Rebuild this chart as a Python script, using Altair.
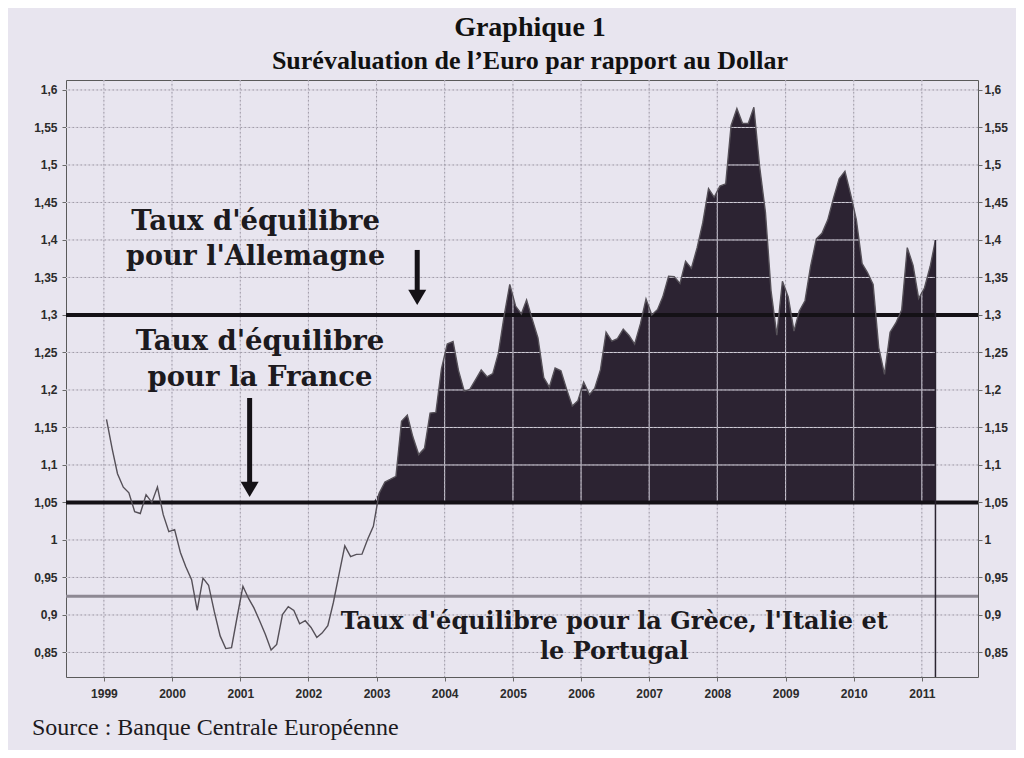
import altair as alt
import pandas as pd

# ---------------- data ----------------
first_year = 1999
# monthly EUR/USD reference rate, Jan 1999 .. Mar 2011
usd_per_eur = [
    1.1608, 1.1208, 1.0883, 1.0704, 1.0628, 1.0378, 1.0353, 1.0604, 1.0501, 1.0706, 1.0338, 1.0110,
    1.0137, 0.9834, 0.9643, 0.9470, 0.9060, 0.9492, 0.9397, 0.9041, 0.8721, 0.8552, 0.8564, 0.8973,
    0.9383, 0.9217, 0.9095, 0.8920, 0.8742, 0.8532, 0.8607, 0.9005, 0.9111, 0.9059, 0.8883, 0.8924,
    0.8833, 0.8700, 0.8758, 0.8858, 0.9170, 0.9554, 0.9922, 0.9778, 0.9808, 0.9811, 1.0014, 1.0183,
    1.0622, 1.0773, 1.0807, 1.0848, 1.1582, 1.1663, 1.1372, 1.1139, 1.1222, 1.1692, 1.1702, 1.2286,
    1.2613, 1.2646, 1.2262, 1.1985, 1.2007, 1.2138, 1.2266, 1.2176, 1.2218, 1.2490, 1.2991, 1.3408,
    1.3119, 1.3014, 1.3201, 1.2938, 1.2694, 1.2165, 1.2037, 1.2292, 1.2256, 1.2015, 1.1786, 1.1856,
    1.2103, 1.1938, 1.2020, 1.2271, 1.2770, 1.2650, 1.2684, 1.2811, 1.2727, 1.2611, 1.2881, 1.3213,
    1.2999, 1.3074, 1.3242, 1.3516, 1.3511, 1.3419, 1.3716, 1.3622, 1.3896, 1.4227, 1.4684, 1.4570,
    1.4718, 1.4748, 1.5527, 1.5751, 1.5557, 1.5553, 1.5770, 1.4975, 1.4370, 1.3322, 1.2732, 1.3449,
    1.3239, 1.2785, 1.3050, 1.3190, 1.3650, 1.4016, 1.4088, 1.4268, 1.4562, 1.4816, 1.4914, 1.4614,
    1.4272, 1.3686, 1.3569, 1.3406, 1.2565, 1.2209, 1.2770, 1.2894, 1.3067, 1.3898, 1.3661, 1.3220,
    1.3360, 1.3649, 1.3999,
]
area_start = "2002-12-15"

equilibrium_levels = [1.30, 1.05]          # Allemagne, France
south_level = [0.925]                       # Grèce, Italie, Portugal

y_ticks = [0.85, 0.90, 0.95, 1.00, 1.05, 1.10, 1.15, 1.20, 1.25, 1.30,
           1.35, 1.40, 1.45, 1.50, 1.55, 1.60]
year_ticks = list(range(1999, 2012))

y_domain = [0.8173, 1.6133]

ann_text = ["Taux d'équilibre", "pour l'Allemagne",
            "Taux d'équilibre", "pour la France",
            "Taux d'équilibre pour la Grèce, l'Italie et", "le Portugal"]
ann_date = ["2001-03-24", "2001-03-24", "2001-04-17", "2001-04-17",
            "2006-06-28", "2006-06-28"]
ann_value = [1.4133, 1.3673, 1.2533, 1.2047, 0.8813, 0.8413]
ann_size = [27.5, 27, 27.5, 27.5, 24, 24]

arrow_date = ["2003-08-07", "2001-02-20"]
arrow_top = [1.3867, 1.1893]
arrow_base = [1.333, 1.0773]
arrow_head = [1.324, 1.068]

title_text = "Graphique 1"
subtitle_text = "Surévaluation de l’Euro par rapport au Dollar"
source_text = "Source : Banque Centrale Européenne"

# ---------------- tables ----------------
dates = [f"{first_year + i // 12}-{i % 12 + 1:02d}-15" for i in range(len(usd_per_eur))]
df = pd.DataFrame({"date": dates, "rate": usd_per_eur})
area_df = df[df["date"] >= area_start]
last_df = df.iloc[[-1]].assign(lo=y_domain[0])
grid_y = pd.DataFrame({"v": y_ticks})
grid_x = pd.DataFrame({"d": [f"{y}-01-01" for y in year_ticks]})
eq_df = pd.DataFrame({"v": equilibrium_levels})
south_df = pd.DataFrame({"v": south_level})
ann_df = pd.DataFrame({"date": ann_date, "v": ann_value, "t": ann_text, "s": ann_size})
arrow_df = pd.DataFrame({"date": arrow_date, "top": arrow_top, "base": arrow_base, "head": arrow_head})
src_df = pd.DataFrame({"t": [source_text]})

# ---------------- scales / axes ----------------
x_domain = [alt.DateTime(year=1998, month=6, date=12, utc=True),
            alt.DateTime(year=2011, month=10, date=29, utc=True)]


def xscale():
    return alt.Scale(type="utc", nice=False, domain=x_domain)


def yscale():
    return alt.Scale(domain=y_domain, nice=False, zero=False)


label_expr = "replace(format(datum.value, '.2~f'), '.', ',')"
axis_common = dict(grid=False, domain=False, tickSize=4, tickColor="#6a6a6a",
                   labelFont="Liberation Sans", labelFontSize=12, labelFontWeight="bold",
                   labelColor="#2b2b2b", title=None)
left_axis = alt.Axis(values=y_ticks, labelExpr=label_expr, labelPadding=5, orient="left", **axis_common)
right_axis = alt.Axis(values=y_ticks, labelExpr=label_expr, labelPadding=2, orient="right", **axis_common)
x_axis = alt.Axis(values=[alt.DateTime(year=y, month=1, date=1, utc=True) for y in year_ticks],
                  format="%Y", labelPadding=7, orient="bottom", **axis_common)


def X(f, **k):
    return alt.X(f, scale=xscale(), **k)


def Y(f, **k):
    return alt.Y(f, scale=yscale(), **k)


area = alt.Chart(area_df).mark_area(color="#2c2332", opacity=1).transform_calculate(
    top="max(datum.rate, 1.05)", bottom="1.05"
).encode(x=X("date:T", axis=None), y=Y("bottom:Q", axis=None), y2="top:Q")

grid_light_h = alt.Chart(grid_y).mark_rule(color="#d6d2de", strokeWidth=1).encode(y=Y("v:Q", axis=None))
grid_light_v = alt.Chart(grid_x).mark_rule(color="#d6d2de", strokeWidth=1).encode(x=X("d:T", axis=None))
grid_dot_h = alt.Chart(grid_y).mark_rule(color="#a09ca8", strokeWidth=1, strokeDash=[1.5, 2.5]).encode(
    y=Y("v:Q", axis=None))
grid_dot_v = alt.Chart(grid_x).mark_rule(color="#a09ca8", strokeWidth=1, strokeDash=[1.5, 2.5]).encode(
    x=X("d:T", axis=None))

eq_lines = alt.Chart(eq_df).mark_rule(color="#141116", strokeWidth=4).encode(y=Y("v:Q", axis=None))
south_line = alt.Chart(south_df).mark_rule(color="#8d8893", strokeWidth=3).encode(y=Y("v:Q", axis=None))

end_rule = alt.Chart(last_df).mark_rule(color="#2a2430", strokeWidth=1.5).encode(
    x=X("date:T", axis=None), y=Y("lo:Q", axis=None), y2="rate:Q")

series = alt.Chart(df).mark_line(color="#555058", strokeWidth=1.4).encode(
    x=X("date:T", axis=None), y=Y("rate:Q", axis=None))

texts = alt.Chart(ann_df).mark_text(font="DejaVu Serif", fontWeight="bold", align="center",
                                    baseline="alphabetic", color="#1c1a1e").encode(
    x=X("date:T", axis=None), y=Y("v:Q", axis=None), text="t:N", size=alt.Size("s:Q", scale=None))

shafts = alt.Chart(arrow_df).mark_rule(color="#141116", strokeWidth=5).encode(
    x=X("date:T", axis=None), y=Y("top:Q", axis=None), y2="base:Q")
heads = alt.Chart(arrow_df).mark_point(shape="M-1,-0.8L1,-0.8L0,0.9Z", filled=True, size=324,
                                       color="#141116", opacity=1, strokeWidth=0).encode(
    x=X("date:T", axis=None), y=Y("head:Q", axis=None))

source = alt.Chart(src_df).mark_text(font="Liberation Serif", fontSize=24, align="left",
                                     baseline="alphabetic", color="#1c1a1e").encode(
    x=alt.value(-34), y=alt.value(655), text="t:N")

inner = alt.layer(area, grid_light_h, grid_light_v, grid_dot_h, grid_dot_v, south_line,
                  eq_lines, series, end_rule, texts, shafts, heads, source)

left_ax = alt.Chart(df).mark_rule(opacity=0).encode(
    x=X("date:T", axis=x_axis), y=Y("rate:Q", axis=left_axis))
right_ax = alt.Chart(df).mark_rule(opacity=0).encode(
    x=X("date:T", axis=None), y=Y("rate:Q", axis=right_axis))

chart = alt.layer(inner, left_ax, right_ax).resolve_scale(
    x="independent", y="independent"
).properties(
    width=912, height=597,
    padding={"left": 58, "top": 72, "right": 38, "bottom": 73},
    autosize=alt.AutoSizeParams(type="none"),
    title=alt.TitleParams(text=title_text, subtitle=subtitle_text, font="Liberation Serif",
                          fontSize=28, fontWeight="bold", color="#111111",
                          subtitleFont="Liberation Serif", subtitleFontSize=26,
                          subtitleFontWeight="bold", subtitleColor="#111111",
                          anchor="middle", offset=6, subtitlePadding=6, dx=8),
).configure(background="#e8e5ef").configure_view(stroke="#5a5a5a", strokeWidth=1)

chart.save("out.html", embed_options={"renderer": "svg", "actions": False})
